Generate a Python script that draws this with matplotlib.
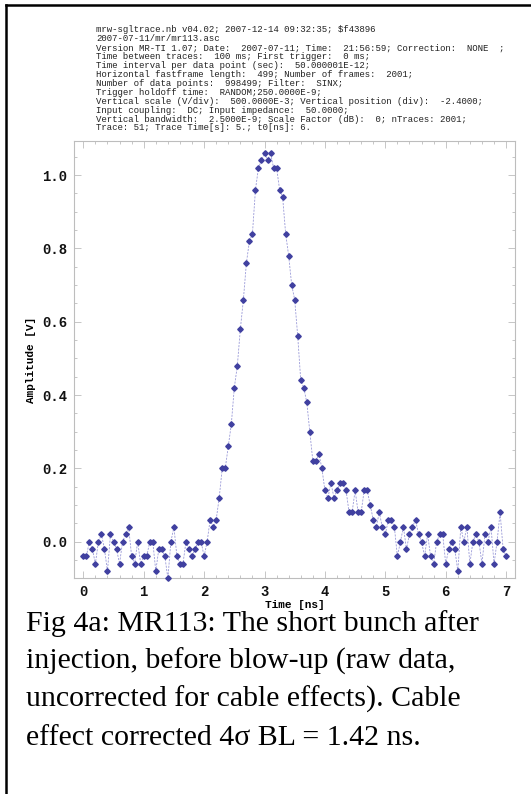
import matplotlib
matplotlib.use("Agg")
import matplotlib.pyplot as plt
from matplotlib.lines import Line2D
from matplotlib.ticker import MultipleLocator
import numpy as np

# ---- data ----
time_step_ns = 0.05
amplitude = [
    # 0.00 - 0.95
    -0.04, -0.04, 0.00, -0.02, -0.06, 0.00, 0.02, -0.02, -0.08, 0.02,
    0.00, -0.02, -0.06, 0.00, 0.02, 0.04, -0.04, -0.06, 0.00, -0.06,
    # 1.00 - 1.95
    -0.04, -0.04, 0.00, 0.00, -0.08, -0.02, -0.02, -0.04, -0.10, 0.00,
    0.04, -0.04, -0.06, -0.06, 0.00, -0.02, -0.04, -0.02, 0.00, 0.00,
    # 2.00 - 2.95
    -0.04, 0.00, 0.06, 0.04, 0.06, 0.12, 0.20, 0.20, 0.26, 0.32,
    0.42, 0.48, 0.58, 0.66, 0.76, 0.82, 0.84, 0.96, 1.02, 1.04,
    # 3.00 - 3.95
    1.06, 1.04, 1.06, 1.02, 1.02, 0.96, 0.94, 0.84, 0.78, 0.70,
    0.66, 0.56, 0.44, 0.42, 0.38, 0.30, 0.22, 0.22, 0.24, 0.20,
    # 4.00 - 4.95
    0.14, 0.12, 0.16, 0.12, 0.14, 0.16, 0.16, 0.14, 0.08, 0.08,
    0.14, 0.08, 0.08, 0.14, 0.14, 0.10, 0.06, 0.04, 0.08, 0.04,
    # 5.00 - 5.95
    0.02, 0.06, 0.06, 0.04, -0.04, 0.00, 0.04, -0.02, 0.02, 0.04,
    0.06, 0.02, 0.00, -0.04, 0.02, -0.04, -0.06, 0.00, 0.02, 0.02,
    # 6.00 - 7.00
    -0.06, -0.02, 0.00, -0.02, -0.08, 0.04, 0.00, 0.04, -0.06, 0.00,
    0.02, 0.00, -0.06, 0.02, 0.00, 0.04, -0.06, 0.00, 0.08, -0.02,
    -0.04,
]
time_ns = np.arange(len(amplitude)) * time_step_ns

x_ticks = [0, 1, 2, 3, 4, 5, 6, 7]
y_ticks = [0.0, 0.2, 0.4, 0.6, 0.8, 1.0]
x_label = "Time [ns]"
y_label = "Amplitude [V]"

header_lines = [
    "mrw-sgltrace.nb v04.02; 2007-12-14 09:32:35; $f43896",
    "2007-07-11/mr/mr113.asc",
    "Version MR-TI 1.07; Date:  2007-07-11; Time:  21:56:59; Correction:  NONE  ;",
    "Time between traces:  100 ms; First trigger:  0 ms;",
    "Time interval per data point (sec):  50.000001E-12;",
    "Horizontal fastframe length:  499; Number of frames:  2001;",
    "Number of data points:  998499; Filter:  SINX;",
    "Trigger holdoff time:  RANDOM;250.0000E-9;",
    "Vertical scale (V/div):  500.0000E-3; Vertical position (div):  -2.4000;",
    "Input coupling:  DC; Input impedance:  50.0000;",
    "Vertical bandwidth:  2.5000E-9; Scale Factor (dB):  0; nTraces: 2001;",
    "Trace: 51; Trace Time[s]: 5.; t0[ns]: 6.",
]
caption_lines = [
    "Fig 4a: MR113: The short bunch after",
    "injection, before blow-up (raw data,",
    "uncorrected for cable effects). Cable",
    "effect corrected 4\u03c3 BL = 1.42 ns.",
]

# ---- figure ----
W, H = 531, 794
fig = plt.figure(figsize=(W / 100, H / 100), dpi=100)
fig.patch.set_facecolor("white")

def fx(px):
    return px / W

def fy(py):
    return 1 - py / H

ax_l, ax_r, ax_t, ax_b = 74, 515, 141, 578
ax = fig.add_axes([fx(ax_l), fy(ax_b), fx(ax_r - ax_l), (ax_b - ax_t) / H])

ax.plot(time_ns, amplitude, linestyle=(0, (2.5, 1.5)), linewidth=0.6,
        color="#9a9ad8", zorder=2)
ax.plot(time_ns, amplitude, linestyle="none", marker="D", markersize=2.8,
        markerfacecolor="#4040a0", markeredgecolor="#4040a0", zorder=3,
        clip_on=False)

ax.set_xlim(-0.154, 7.147)
ax.set_ylim(-0.099, 1.093)
ax.set_xticks(x_ticks)
ax.set_yticks(y_ticks)
ax.xaxis.set_minor_locator(MultipleLocator(0.2))
ax.yaxis.set_minor_locator(MultipleLocator(0.05))
ax.set_xticklabels([str(v) for v in x_ticks])
ax.set_yticklabels([f"{v:.1f}" for v in y_ticks])

frame_col = "#bdbdbd"
for s in ax.spines.values():
    s.set_color(frame_col)
    s.set_linewidth(0.8)
ax.tick_params(which="both", direction="in", top=True, right=True,
               color=frame_col, width=0.6)
ax.tick_params(which="major", length=5)
ax.tick_params(which="minor", length=2.5)
ax.tick_params(axis="both", which="major", labelsize=10, pad=5)

mono = "Liberation Mono"
for lab in ax.get_xticklabels() + ax.get_yticklabels():
    lab.set_fontfamily(mono)
    lab.set_fontweight("bold")
    lab.set_color("#111111")

ax.set_xlabel(x_label, fontfamily=mono, fontweight="bold", fontsize=8,
              labelpad=1)
ax.set_ylabel(y_label, fontfamily=mono, fontweight="bold", fontsize=8,
              labelpad=4)

# header text
for i, line in enumerate(header_lines):
    fig.text(fx(96), fy(30 + i * 8.9), line, fontfamily=mono, fontsize=6.5,
             color="#222222", va="center", ha="left", parse_math=False)

# caption
for i, line in enumerate(caption_lines):
    fig.text(fx(26), fy(631 + i * 38), line, fontfamily="Liberation Serif",
             fontsize=21.5, color="black", va="baseline", ha="left")

# partial border (top and left)
fig.add_artist(Line2D([fx(6), 1.0], [fy(5), fy(5)], color="black",
                      linewidth=1.8, transform=fig.transFigure))
fig.add_artist(Line2D([fx(6), fx(6)], [fy(5), 0.0], color="black",
                      linewidth=1.8, transform=fig.transFigure))

fig.savefig("out.png", dpi=100, facecolor="white")
